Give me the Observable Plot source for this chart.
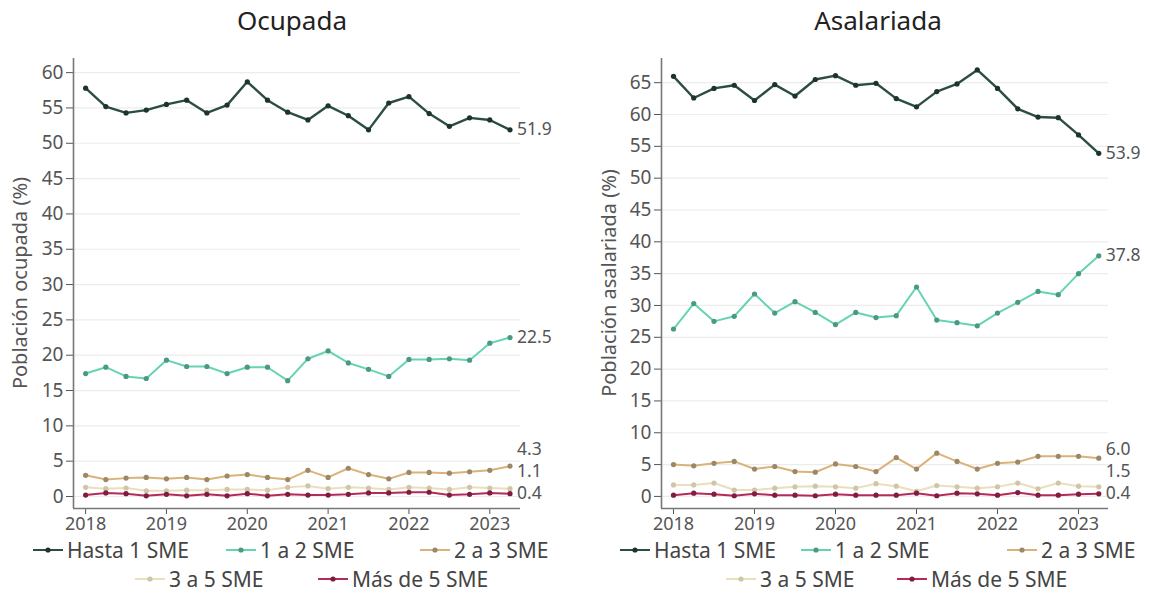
<!DOCTYPE html>
<html><head><meta charset="utf-8">
<script src="https://cdn.jsdelivr.net/npm/d3@7"></script>
<script src="https://cdn.jsdelivr.net/npm/@observablehq/plot@0.6"></script>
<style>
body{margin:0;background:#fff;font-family:"Noto Sans",sans-serif;}
#wrap{position:relative;width:1152px;height:599px;overflow:hidden;background:#fff}
.panel{position:absolute;top:0;width:576px;height:599px}
.ttl{position:absolute;top:2px;font-size:26px;color:#222;transform:translateX(-50%);white-space:nowrap;font-weight:400}
.ylab{position:absolute;font-size:20px;color:#555;white-space:nowrap;transform:translate(-50%,-50%) rotate(-90deg)}
.svgbox{position:absolute;top:40px;left:0}
.leg{position:absolute;display:flex;align-items:center;font-size:21px;line-height:24px;color:#444;white-space:nowrap}
.leg svg{margin-right:4px}
</style>
</head><body>
<div id="wrap"></div>
<script>
const periodos = ["2018-1","2018-2","2018-3","2018-4","2019-1","2019-2","2019-3","2019-4","2020-1","2020-2","2020-3","2020-4","2021-1","2021-2","2021-3","2021-4","2022-1","2022-2","2022-3","2022-4","2023-1","2023-2"];
const series = ["Hasta 1 SME","1 a 2 SME","2 a 3 SME","3 a 5 SME","Más de 5 SME"];
const lineColors = ["#2c4d44","#66d4b4","#dab27a","#e9e0bb","#b62a58"];
const dotColors  = ["#1d332d","#4b9985","#9c8766","#cfc6a6","#7e1d3f"];
const yearTicks = [2018,2019,2020,2021,2022,2023];

// Población ocupada (%)
const ocupadaHasta1 = [57.8,55.2,54.3,54.7,55.5,56.1,54.3,55.4,58.7,56.1,54.4,53.3,55.3,53.9,51.9,55.7,56.6,54.2,52.4,53.6,53.3,51.9];
const ocupada1a2    = [17.4,18.3,17.0,16.7,19.3,18.4,18.4,17.4,18.3,18.3,16.4,19.5,20.6,18.9,18.0,17.0,19.4,19.4,19.5,19.3,21.7,22.5];
const ocupada2a3    = [3.0,2.4,2.6,2.7,2.5,2.7,2.4,2.9,3.1,2.7,2.4,3.7,2.7,4.0,3.1,2.5,3.4,3.4,3.3,3.5,3.7,4.3];
const ocupada3a5    = [1.3,1.1,1.2,0.8,0.8,0.9,0.9,1.0,1.0,0.9,1.3,1.5,1.1,1.3,1.2,1.0,1.3,1.2,1.0,1.3,1.2,1.1];
const ocupadaMas5   = [0.2,0.5,0.4,0.1,0.3,0.1,0.3,0.1,0.4,0.1,0.3,0.2,0.2,0.3,0.5,0.5,0.6,0.6,0.2,0.3,0.5,0.4];

// Población asalariada (%)
const asalHasta1 = [66.0,62.6,64.1,64.6,62.2,64.7,62.9,65.5,66.1,64.6,64.9,62.5,61.2,63.6,64.8,67.0,64.1,60.9,59.6,59.5,56.8,53.9];
const asal1a2    = [26.3,30.3,27.5,28.3,31.8,28.8,30.6,28.9,27.0,28.9,28.1,28.4,32.9,27.7,27.3,26.8,28.8,30.5,32.2,31.7,35.0,37.8];
const asal2a3    = [5.0,4.8,5.2,5.5,4.3,4.7,3.9,3.8,5.1,4.7,3.9,6.1,4.3,6.8,5.5,4.3,5.2,5.4,6.3,6.3,6.3,6.0];
const asal3a5    = [1.8,1.8,2.1,1.0,1.0,1.3,1.5,1.6,1.5,1.3,2.0,1.6,0.8,1.7,1.5,1.3,1.5,2.1,1.2,2.1,1.6,1.5];
const asalMas5   = [0.2,0.5,0.35,0.1,0.4,0.2,0.2,0.1,0.35,0.2,0.2,0.2,0.5,0.1,0.5,0.4,0.2,0.6,0.2,0.2,0.35,0.4];

const toT = p => { const [y,q] = p.split("-").map(Number); return y + (q-1)*0.25; };

function drawPanel(cfg){
  const wrap = document.getElementById("wrap");
  const panel = document.createElement("div");
  panel.className = "panel"; panel.style.left = cfg.left + "px";
  wrap.appendChild(panel);

  const W = 576, H = 498, mt = 18, mb = 30;
  const y = d3.scaleLinear(cfg.yDomain, [H - mb, mt]);
  const tLast = toT(periodos[periodos.length-1]);

  const rows = [];
  cfg.values.forEach((vals, k) => vals.forEach((v, i) => rows.push({serie: series[k], k, t: toT(periodos[i]), v})));

  // end labels, pushed apart vertically
  const last = cfg.values.map((vals, k) => ({k, v: vals[vals.length-1], px: y(vals[vals.length-1])}));
  const sorted = [...last].sort((a, b) => b.px - a.px);
  let prev = Infinity;
  for (const d of sorted) { d.ly = Math.min(d.px, prev - 22); prev = d.ly; }
  const labels = last.map(d => ({t: tLast, yv: y.invert(d.ly), txt: d.v.toFixed(1)}));

  const marks = [
    Plot.gridY(cfg.yTicks, {stroke: "#ececec", strokeOpacity: 1, strokeWidth: 1.2}),
    Plot.axisY(cfg.yTicks, {tickSize: 7, tickPadding: 3, fontSize: 19, color: "#555", label: null}),
    Plot.axisX(yearTicks, {tickSize: 6, tickPadding: 3, fontSize: 18, color: "#555", label: null, tickFormat: d => String(d)}),
    Plot.ruleX([cfg.xDomain[0]], {stroke: "#777", strokeWidth: 1.6}),
    Plot.ruleY([cfg.yDomain[0]], {stroke: "#777", strokeWidth: 1.6})
  ];
  series.forEach((s, k) => {
    const d = rows.filter(r => r.k === k);
    marks.push(Plot.line(d, {x: "t", y: "v", stroke: lineColors[k], strokeWidth: k === 0 ? 2.4 : 2}));
    marks.push(Plot.dot(d, {x: "t", y: "v", fill: dotColors[k], r: 2.6}));
  });
  marks.push(Plot.text(labels, {x: "t", y: "yv", text: "txt", dx: 7, textAnchor: "start", fontSize: 17.5, fill: "#555"}));

  const chart = Plot.plot({
    width: W, height: H, marginTop: mt, marginBottom: mb,
    marginLeft: cfg.marginLeft, marginRight: cfg.marginRight,
    x: {domain: cfg.xDomain, label: null},
    y: {domain: cfg.yDomain, label: null},
    style: {fontFamily: "Noto Sans", background: "transparent", overflow: "visible"},
    marks
  });
  const box = document.createElement("div");
  box.className = "svgbox";
  box.appendChild(chart);
  panel.appendChild(box);

  const t = document.createElement("div");
  t.className = "ttl"; t.textContent = cfg.title; t.style.left = cfg.titleX + "px";
  panel.appendChild(t);

  const yl = document.createElement("div");
  yl.className = "ylab"; yl.textContent = cfg.yLabel;
  yl.style.left = cfg.yLabelX + "px"; yl.style.top = "283px";
  panel.appendChild(yl);

  series.forEach((s, k) => {
    const it = document.createElement("div");
    it.className = "leg";
    it.style.left = cfg.legX[k] + "px";
    it.style.top = (k < 3 ? 538 : 567) + "px";
    it.innerHTML = `<svg width="30" height="14"><line x1="0" x2="30" y1="7" y2="7" stroke="${lineColors[k]}" stroke-width="2"/><circle cx="15" cy="7" r="2.6" fill="${dotColors[k]}"/></svg><span>${s}</span>`;
    panel.appendChild(it);
  });
}

drawPanel({
  left: 0, title: "Ocupada", titleX: 292, yLabel: "Población ocupada (%)", yLabelX: 19,
  values: [ocupadaHasta1, ocupada1a2, ocupada2a3, ocupada3a5, ocupadaMas5],
  yDomain: [-1.7, 62], yTicks: d3.range(0, 61, 5), xDomain: [2017.85, 2023.38],
  marginLeft: 73, marginRight: 56, legX: [33, 226, 420, 135, 318]
});
drawPanel({
  left: 576, title: "Asalariada", titleX: 302, yLabel: "Población asalariada (%)", yLabelX: 32,
  values: [asalHasta1, asal1a2, asal2a3, asal3a5, asalMas5],
  yDomain: [-1.9, 68.8], yTicks: d3.range(0, 66, 5), xDomain: [2017.852, 2023.37],
  marginLeft: 85, marginRight: 44, legX: [44, 225, 431, 150, 321]
});
</script>
</body></html>
